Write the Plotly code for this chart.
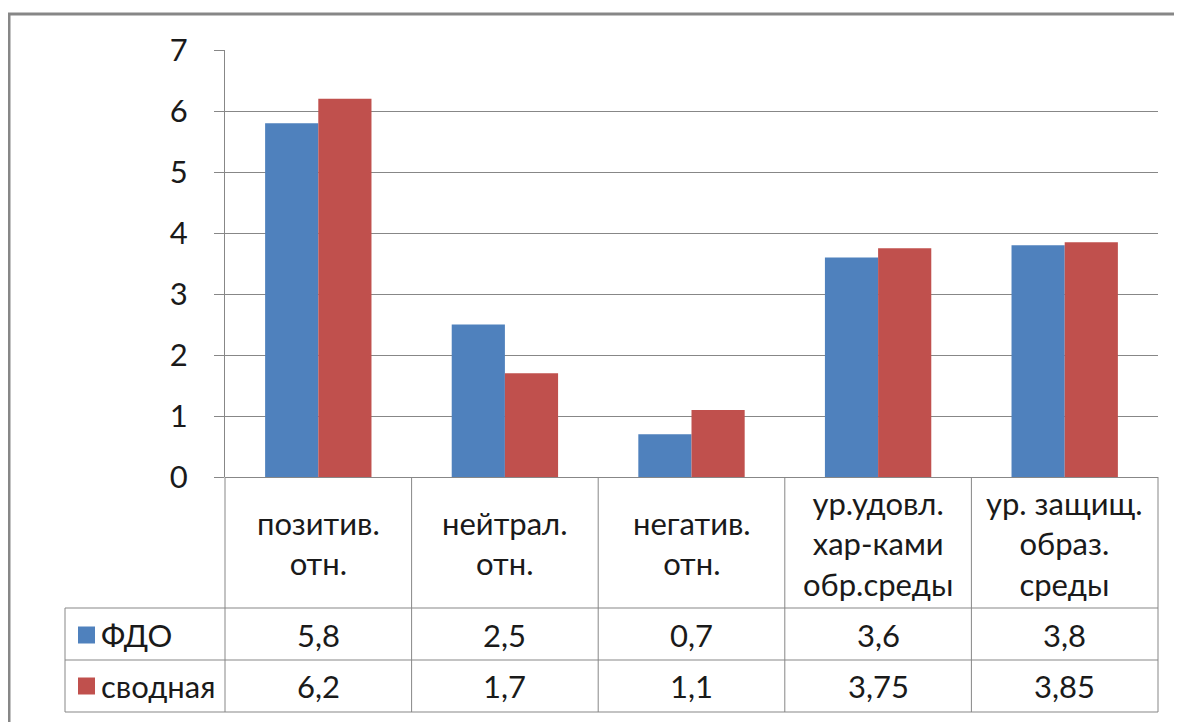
import plotly.graph_objects as go

categories = ["позитив.<br>отн.", "нейтрал.<br>отн.", "негатив.<br>отн.",
              "ур.удовл.<br>хар-ками<br>обр.среды", "ур. защищ.<br>образ.<br>среды"]
series_names = ["ФДО", "сводная"]
fdo = [5.8, 2.5, 0.7, 3.6, 3.8]
svod = [6.2, 1.7, 1.1, 3.75, 3.85]
y_ticks = [0, 1, 2, 3, 4, 5, 6, 7]

colors = ["#4F81BD", "#C0504D"]
FONT = "Lato"
FS = 31
TXT = "#1a1a1a"
GRAY = "#878787"
W_FIG, H_FIG = 1182, 722
OFF = 8  # page body margin
L, R, T, B = 225, 1158, 50, 477  # screen pixel positions of plot area
PW, PH = R - L, B - T


def px(x):
    return (x - L) / PW


def py(y):
    return (B - y) / PH


fig = go.Figure()
xs = list(range(len(categories)))
for name, vals, c in zip(series_names, [fdo, svod], colors):
    fig.add_trace(go.Bar(x=xs, y=vals, name=name, marker=dict(color=c, line=dict(width=0)),
                         showlegend=False))

shapes = []
annotations = []
line = dict(color=GRAY, width=1)

row_top = 0.0
row_hdr = py(608)
row_1 = py(660)
row_2 = py(712)
leg_left = px(65)
n = len(categories)

for i in range(n + 1):
    xb = i / n
    shapes.append(dict(type="line", xref="paper", yref="paper", x0=xb, x1=xb,
                       y0=row_top, y1=row_2, line=line))
for yy in [row_hdr, row_1, row_2]:
    shapes.append(dict(type="line", xref="paper", yref="paper", x0=leg_left, x1=1,
                       y0=yy, y1=yy, line=line))
shapes.append(dict(type="line", xref="paper", yref="paper", x0=leg_left, x1=leg_left,
                   y0=row_hdr, y1=row_2, line=line))

# outer frame (left + top)
shapes.append(dict(type="line", xref="paper", yref="paper", x0=px(9), x1=px(9),
                   y0=py(13), y1=py(760), line=dict(color=GRAY, width=3)))
shapes.append(dict(type="line", xref="paper", yref="paper", x0=px(8), x1=px(1220),
                   y0=py(14), y1=py(14), line=dict(color=GRAY, width=3)))

# header labels
for i, cat in enumerate(categories):
    annotations.append(dict(xref="paper", yref="paper", x=(i + 0.5) / n, y=py(543),
                            text=cat, showarrow=False, xanchor="center", yanchor="middle",
                            align="center", font=dict(family=FONT, size=FS, color=TXT)))

row_centers = [py(635), py(686)]
for vals, name, c, yc in zip([fdo, svod], series_names, colors, row_centers):
    for i, v in enumerate(vals):
        annotations.append(dict(xref="paper", yref="paper", x=(i + 0.5) / n, y=yc,
                                text=str(v).replace(".", ","), showarrow=False,
                                xanchor="center", yanchor="middle",
                                font=dict(family=FONT, size=FS, color=TXT)))
    shapes.append(dict(type="rect", xref="paper", yref="paper", x0=px(78), x1=px(95),
                       y0=yc - 8.5 / PH, y1=yc + 8.5 / PH, fillcolor=c, line=dict(width=0)))
    annotations.append(dict(xref="paper", yref="paper", x=px(99), y=yc, text=name,
                            showarrow=False, xanchor="left", yanchor="middle",
                            font=dict(family=FONT, size=FS, color=TXT)))

fig.update_layout(
    width=W_FIG, height=H_FIG,
    margin=dict(l=L - OFF, r=W_FIG - (R - OFF), t=T - OFF, b=H_FIG - (B - OFF), pad=0),
    paper_bgcolor="white", plot_bgcolor="white",
    barmode="group", bargap=0.43, bargroupgap=0,
    shapes=shapes, annotations=annotations,
    xaxis=dict(range=[-0.5, n - 0.5], showticklabels=False, showgrid=False,
               zeroline=False, showline=False, ticks=""),
    yaxis=dict(range=[0, 7], tickvals=y_ticks, showgrid=True, gridcolor=GRAY, gridwidth=1,
               zeroline=True, zerolinecolor=GRAY, zerolinewidth=1,
               showline=True, linecolor=GRAY, linewidth=1,
               ticks="outside", ticklen=10, tickcolor=GRAY, tickwidth=1,
               ticklabelstandoff=20,
               tickfont=dict(family=FONT, size=FS, color=TXT)),
)

fig.write_html("out.html")
